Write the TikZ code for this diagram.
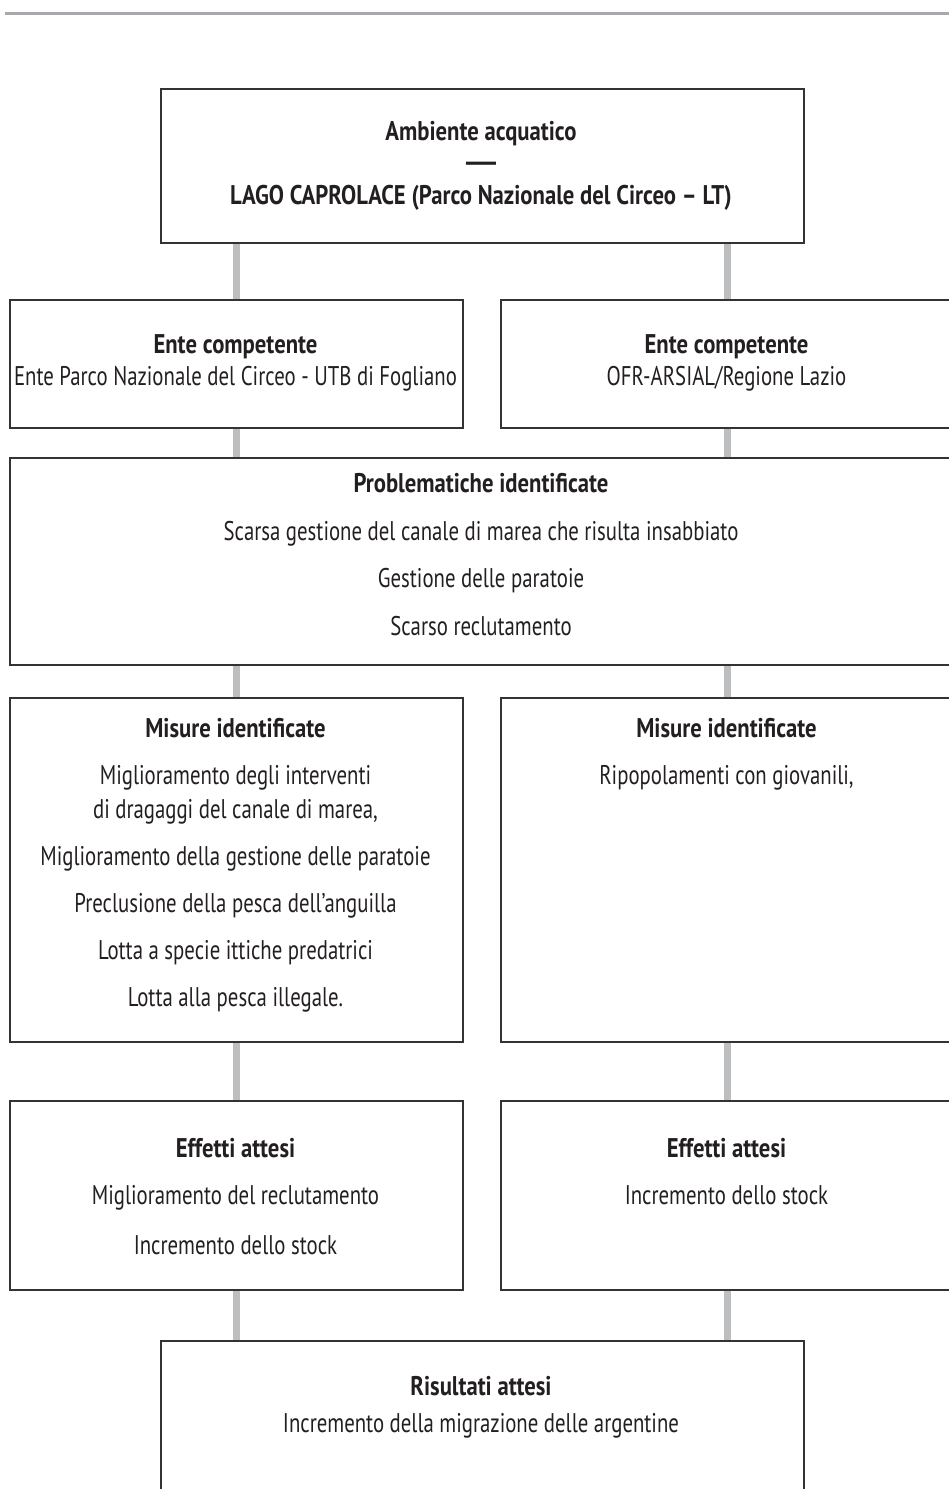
\documentclass[tikz,border=0pt]{standalone}
\usepackage{graphicx}
\usepackage{fontspec}
\setmainfont{PT Sans}[FakeStretch=0.77,BoldFeatures={FakeStretch=0.84}]
\definecolor{linkgray}{HTML}{BCBEC0}
\definecolor{rulegray}{HTML}{A7A9AC}
\definecolor{textdark}{HTML}{231F20}
\begin{document}
\begin{tikzpicture}[x=1pt,y=-1pt,
  box/.style={draw=black!80,line width=1.5pt,rectangle,inner sep=0pt,anchor=north west},
  wide/.style={box,minimum width=643pt},
  half/.style={box,minimum width=453pt},
  link/.style={draw=linkgray,line width=7pt},
  txt/.style={text=textdark,inner sep=0pt,text height=19pt,text depth=5pt,font=\fontsize{27}{31}\selectfont},
  head/.style={txt,font=\fontsize{27}{31}\selectfont\bfseries}]
\useasboundingbox (0,0) rectangle (949,1489);
\draw[rulegray,line width=3pt] (5,13) -- (949,13);
% boxes
\node[wide,minimum height=154pt] (amb) at (160,88) {};
\node[half,minimum height=128pt] (enteL) at (9,299) {};
\node[half,minimum height=128pt] (enteR) at (500,299) {};
\node[box,minimum width=944pt,minimum height=207pt] (prob) at (9,457) {};
\node[half,minimum height=344pt] (misL) at (9,697) {};
\node[half,minimum height=344pt] (misR) at (500,697) {};
\node[half,minimum height=189pt] (effL) at (9,1100) {};
\node[half,minimum height=189pt] (effR) at (500,1100) {};
\node[wide,minimum height=200pt] (ris) at (160,1340) {};
% links
\foreach \c in {enteL,enteR}
  \draw[link] (\c.north |- amb.south) -- (\c.north);
\foreach \c in {enteL,enteR}
  \draw[link] (\c.south) -- (\c.south |- prob.north);
\foreach \c in {misL,misR}
  \draw[link] (\c.north |- prob.south) -- (\c.north);
\draw[link] (misL.south) -- (effL.north);
\draw[link] (misR.south) -- (effR.north);
\foreach \c in {effL,effR}
  \draw[link] (\c.south) -- (\c.south |- ris.north);
% texts
\node[head] (ambA) at (481,133) {Ambiente acquatico};
\node[head] (ambB) at (481,164) {\scalebox{2.2}[1]{—}};
\node[head] (ambC) at (481,197) {LAGO CAPROLACE (Parco Nazionale del Circeo – LT)};
\node[head] (enteLa) at (235.5,346) {Ente competente};
\node[txt] (enteLb) at (235.5,378) {Ente Parco Nazionale del Circeo - UTB di Fogliano};
\node[head] (enteRa) at (726.5,346) {Ente competente};
\node[txt] (enteRb) at (726.5,378) {OFR-ARSIAL/Regione Lazio};
\node[head] (proba) at (481,485) {Problematiche identificate};
\node[txt] (probb) at (481,533) {Scarsa gestione del canale di marea che risulta insabbiato};
\node[txt] (probc) at (481,580) {Gestione delle paratoie};
\node[txt] (probd) at (481,628) {Scarso reclutamento};
\node[head] (misLa) at (235.5,730) {Misure identificate};
\node[txt] (misLb) at (235.5,777) {Miglioramento degli interventi};
\node[txt] (misLc) at (235.5,811) {di dragaggi del canale di marea,};
\node[txt] (misLd) at (235.5,858) {Miglioramento della gestione delle paratoie};
\node[txt] (misLe) at (235.5,905) {Preclusione della pesca dell’anguilla};
\node[txt] (misLf) at (235.5,952) {Lotta a specie ittiche predatrici};
\node[txt] (misLg) at (235.5,999) {Lotta alla pesca illegale.};
\node[head] (misRa) at (726.5,730) {Misure identificate};
\node[txt] (misRb) at (726.5,777) {Ripopolamenti con giovanili,};
\node[head] (effLa) at (235.5,1150) {Effetti attesi};
\node[txt] (effLb) at (235.5,1197) {Miglioramento del reclutamento};
\node[txt] (effLc) at (235.5,1247) {Incremento dello stock};
\node[head] (effRa) at (726.5,1150) {Effetti attesi};
\node[txt] (effRb) at (726.5,1197) {Incremento dello stock};
\node[head] (risa) at (481,1388) {Risultati attesi};
\node[txt] (risb) at (481,1425) {Incremento della migrazione delle argentine};
\end{tikzpicture}
\end{document}
